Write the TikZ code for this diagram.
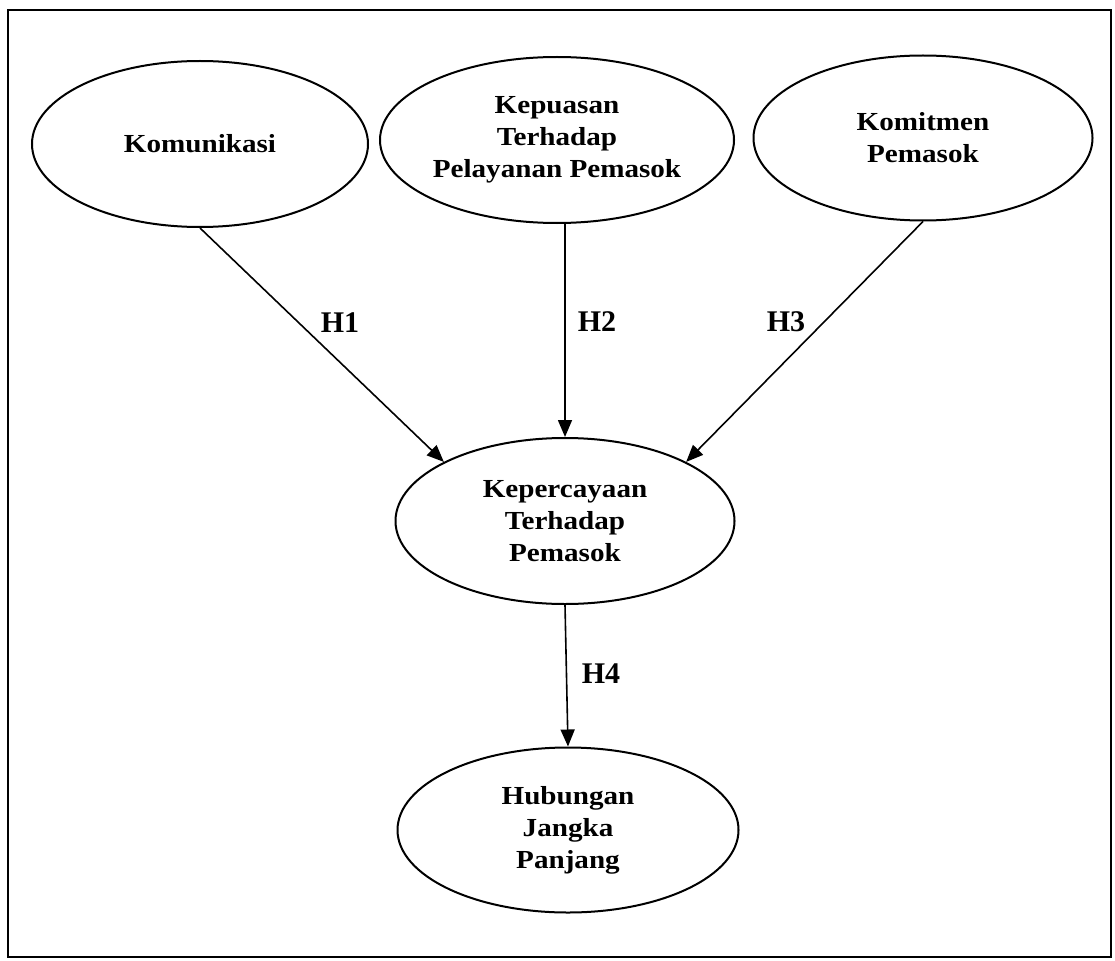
\documentclass[tikz,border=0pt]{standalone}
\usepackage{fontspec}
\newfontfamily\lbl[FakeStretch=1.12]{Liberation Serif}
\newfontfamily\hlbl{Liberation Serif}
\usetikzlibrary{shapes.geometric,arrows.meta}
\begin{document}
\begin{tikzpicture}[x=1pt,y=-1pt,
  var/.style={ellipse, draw, line width=2pt, inner sep=0pt, align=center,
    font=\lbl\bfseries\fontsize{26}{32}\selectfont},
  arr/.style={line width=1.6pt, -{Triangle[length=17pt,width=14pt]}},
  hyp/.style={font=\hlbl\bfseries\fontsize{30}{32}\selectfont, inner sep=0pt}]
\useasboundingbox (0,0) rectangle (1115,960);
\draw[line width=2pt] (8,10) rectangle (1111,957);

\node[var, minimum width=336pt, minimum height=166pt] (kom) at (200,144) {Komunikasi};
\node[var, minimum width=354pt, minimum height=166pt] (kps) at (557,140) {Kepuasan\\Terhadap\\Pelayanan Pemasok};
\node[var, minimum width=339pt, minimum height=165pt] (kmt) at (923,138) {Komitmen\\Pemasok};
\node[var, minimum width=339pt, minimum height=166pt] (kep) at (565,521) {Kepercayaan\\Terhadap\\Pemasok};
\node[var, minimum width=341pt, minimum height=165pt] (hub) at (568,830) {Hubungan\\Jangka\\Panjang};

\draw[arr] (kom.south) -- (kep.154);
\draw[arr] (kep.north |- kps.south) -- (kep.north);
\draw[arr] (kmt.south) -- (kep.26);
\draw[arr] (kep.south) -- (hub.north);

\node[hyp] (h1) at (340,323) {H1};
\node[hyp] (h2) at (597,322) {H2};
\node[hyp] (h3) at (786,322) {H3};
\node[hyp] (h4) at (601,674) {H4};
\end{tikzpicture}
\end{document}
